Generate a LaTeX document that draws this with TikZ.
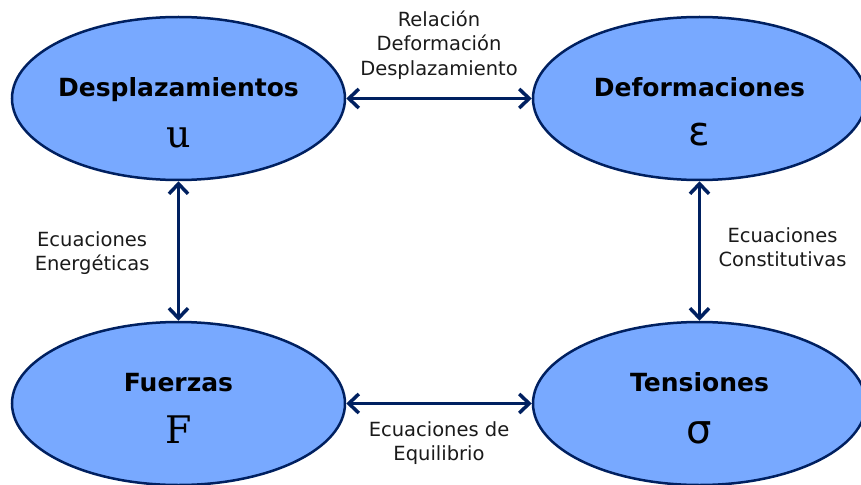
\documentclass[tikz,border=0pt]{standalone}
\usepackage{fontspec}
\setmainfont{DejaVu Sans}
\newfontfamily\serifsym{DejaVu Serif}
\usetikzlibrary{shapes.geometric, arrows.meta, positioning}
\definecolor{navy}{RGB}{0,32,96}
\definecolor{skyfill}{RGB}{120,169,255}
\definecolor{labelgray}{RGB}{26,26,26}
\tikzstyle{arrow} = [line width=3.5pt, navy, {Straight Barb[length=10pt,width=19pt]}-{Straight Barb[length=10pt,width=19pt]}]
\tikzstyle{quantity} = [ellipse, draw=navy, line width=2.5pt, fill=skyfill, minimum width=333pt, minimum height=163pt, inner sep=0pt]
\tikzstyle{qtitle} = [anchor=base, font=\fontsize{25}{28}\selectfont\bfseries]
\tikzstyle{qsymbol} = [anchor=base, font=\fontsize{40}{44}\selectfont]
\tikzstyle{relation} = [font=\fontsize{19.5}{24.5}\selectfont, text=labelgray, align=center]

\begin{document}
\begin{tikzpicture}[x=1pt, y=-1pt]
    \useasboundingbox (0,0) rectangle (861,484);

    % Quantities
    \node[quantity] (disp) at (178.5,98.5) {};
    \node[quantity] (strain) at (699.5,98.5) {};
    \node[quantity] (force) at (178.5,403.5) {};
    \node[quantity] (stress) at (699.5,403.5) {};

    % Names and symbols
    \node[qtitle] (disp-t) at ([yshift=1.5pt]disp.center) {Desplazamientos};
    \node[qtitle] (strain-t) at ([yshift=1.5pt]strain.center) {Deformaciones};
    \node[qtitle] (force-t) at ([yshift=12pt]force.center) {Fuerzas};
    \node[qtitle] (stress-t) at ([yshift=12pt]stress.center) {Tensiones};
    \node[qsymbol, font=\fontsize{38}{42}\serifsym] (disp-s) at ([yshift=-48.5pt]disp.center) {u};
    \node[qsymbol] (strain-s) at ([yshift=-46.5pt]strain.center) {ε};
    \node[qsymbol, font=\fontsize{38}{42}\serifsym] (force-s) at ([yshift=-39.5pt]force.center) {F};
    \node[qsymbol] (stress-s) at ([yshift=-39.5pt]stress.center) {σ};

    % Relations
    \draw[arrow] (disp) -- (strain)
        node[midway, above=14pt, relation] {Relación\\Deformación\\Desplazamiento};
    \draw[arrow] (disp) -- (force)
        node[midway, left=24pt, yshift=-2pt, relation] {Ecuaciones\\Energéticas};
    \draw[arrow] (strain) -- (stress)
        node[midway, right=14pt, yshift=4pt, relation] {Ecuaciones\\Constitutivas};
    \draw[arrow] (force) -- (stress)
        node[midway, below=13pt, relation] {Ecuaciones de\\Equilibrio};
\end{tikzpicture}
\end{document}
